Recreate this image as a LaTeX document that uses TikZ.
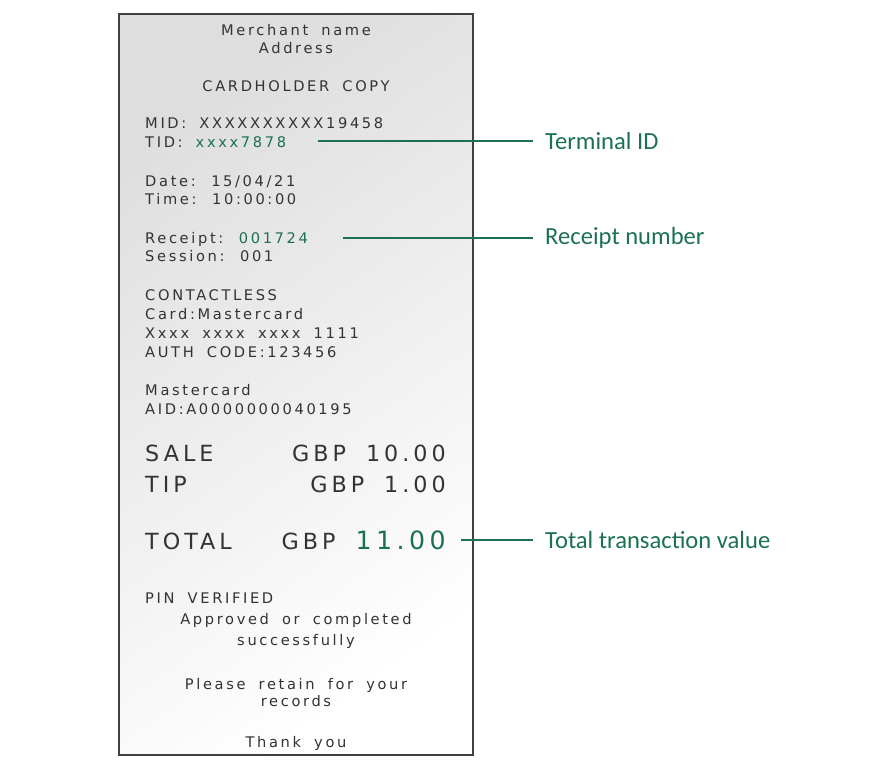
\documentclass[tikz,border=0pt]{standalone}
\usepackage{fontspec}
\setmainfont{Carlito}
\newfontfamily\rcpt[LetterSpace=18,WordSpace=1.8]{DejaVu Sans}
\usetikzlibrary{positioning}
\definecolor{leafgreen}{HTML}{1B7150}
\definecolor{inkgray}{HTML}{333333}
\begin{document}
\begin{tikzpicture}[x=0.03cm,y=-0.03cm,
    line/.style={anchor=base west,inner sep=0pt,text=inkgray,font=\rcpt\fontsize{12.5}{14}\selectfont},
    mid/.style={line,anchor=base},
    big/.style={anchor=base east,inner sep=0pt,text=inkgray,font=\rcpt\fontsize{19}{20}\selectfont},
    callout/.style={anchor=west,inner sep=0pt,text=leafgreen,font=\fontsize{21}{24}\selectfont},
    leader/.style={draw=leafgreen,line width=1.3pt}]
  \useasboundingbox (0,0) rectangle (883,768);
  % receipt paper
  \shade[top color=black!13,bottom color=white,shading angle=35,draw=black!75,line width=1.2pt]
    (119,14) rectangle (473,755);
  \node[mid] (merchant) at (296,36) {Merchant name};
  \node[mid] (address) at (296,54) {Address};
  \node[mid] (copy) at (296,92) {CARDHOLDER COPY};
  \node[line] (mid) at (145,129) {MID: XXXXXXXXXX19458};
  \node[line] (tid) at (145,148) {TID: \textcolor{leafgreen}{xxxx7878}};
  \node[line] (date) at (145,187) {Date: 15/04/21};
  \node[line] (time) at (145,205) {Time: 10:00:00};
  \node[line] (receipt) at (145,244) {Receipt: \textcolor{leafgreen}{001724}};
  \node[line] (session) at (145,262) {Session: 001};
  \node[line] (contactless) at (145,301) {CONTACTLESS};
  \node[line] (card) at (145,320) {Card:Mastercard};
  \node[line] (pan) at (145,339) {Xxxx xxxx xxxx 1111};
  \node[line] (auth) at (145,358) {AUTH CODE:123456};
  \node[line] (scheme) at (145,396) {Mastercard};
  \node[line] (aid) at (145,415) {AID:A0000000040195};
  \node[big,anchor=base west] (sale) at (145,462) {SALE};
  \node[big] (saleval) at (446,462) {GBP 10.00};
  \node[big,anchor=base west] (tip) at (145,493) {TIP};
  \node[big] (tipval) at (446,493) {GBP 1.00};
  \node[big,anchor=base west] (total) at (145,550) {TOTAL};
  \node[big] (totalval) at (446,550) {GBP \textcolor{leafgreen}{\fontsize{21.5}{24}\selectfont 11.00}};
  \node[line] (pin) at (145,604) {PIN VERIFIED};
  \node[mid] (approved) at (296,625) {Approved or completed};
  \node[mid] (success) at (296,646) {successfully};
  \node[mid] (retain) at (296,689) {Please retain for your};
  \node[mid] (records) at (296,707) {records};
  \node[mid] (thanks) at (296,747) {Thank you};
  % callouts
  \node[callout] (termid) at (545,141) {Terminal ID};
  \node[callout] (rcptno) at (545,238) {Receipt number};
  \node[callout] (totval) at (545,540) {Total transaction value};
  \coordinate (tidend) at (318,141);
  \coordinate (tidlbl) at (533,141);
  \coordinate (rcptend) at (343,238);
  \coordinate (rcptlbl) at (533,238);
  \coordinate (totend) at (461,540);
  \coordinate (totlbl) at (533,540);
  \draw[leader] (tidend) -- (tidlbl);
  \draw[leader] (rcptend) -- (rcptlbl);
  \draw[leader] (totend) -- (totlbl);
\end{tikzpicture}
\end{document}
